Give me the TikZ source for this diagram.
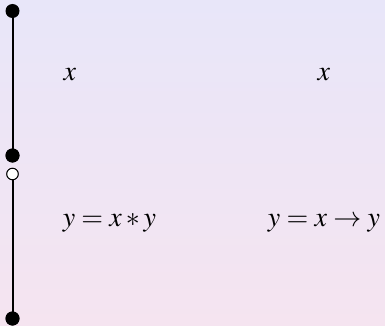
\documentclass[tikz,border=0pt]{standalone}
\usepackage{mathptmx}
\begin{document}
\begin{tikzpicture}[x=1pt,y=-1pt,
  lbl/.style={anchor=base,inner sep=0pt,font=\fontsize{28}{32}\selectfont},
  fdot/.style={circle,fill=black,inner sep=0pt,minimum size=14pt},
  odot/.style={circle,draw=black,fill=white,line width=0.9pt,inner sep=0pt,minimum size=11.5pt}]
  \shade[top color={rgb,255:red,232;green,230;blue,249},bottom color={rgb,255:red,245;green,228;blue,240}] (0,0) rectangle (385,326);
  \useasboundingbox (0,0) rectangle (385,326);
  \node[fdot] (t) at (12.5,11) {};
  \node[fdot] (m) at (12.5,155.5) {};
  \node[odot] (o) at (12.5,174) {};
  \node[fdot] (b) at (12.5,318.5) {};
  \draw[line width=2pt] (t.center) -- (m.center);
  \draw[line width=2pt] (o.center) -- (b.center);
  \node[odot] at (o) {};
  \node[fdot] at (b) {};
  \node[fdot] at (m) {};
  \node[lbl] (x1) at (70,81) {$x$};
  \node[lbl] (x2) at (324,81) {$x$};
  \node[lbl] (e1) at (109.5,226) {$y = x \ast y$};
  \node[lbl] (e2) at (324,226) {$y = x \rightarrow y$};
\end{tikzpicture}
\end{document}
